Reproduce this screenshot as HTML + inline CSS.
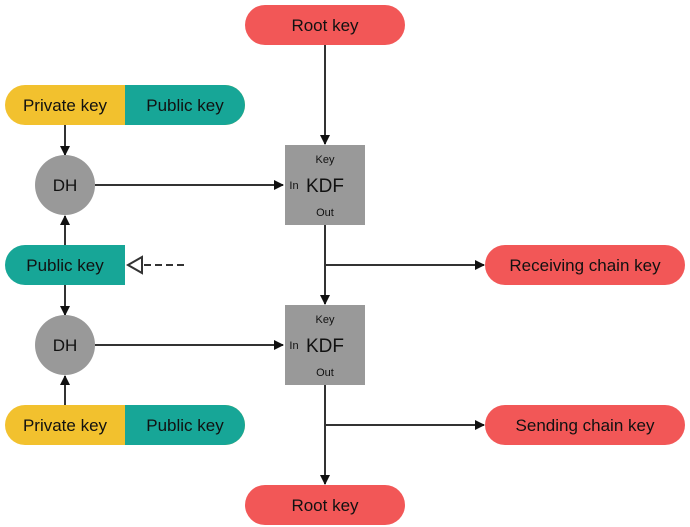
<!DOCTYPE html>
<html><head><style>html,body{margin:0;padding:0;background:#fff;}svg{display:block}</style></head>
<body>
<svg width="690" height="527" viewBox="0 0 690 527" xmlns="http://www.w3.org/2000/svg" font-family="Liberation Sans, sans-serif">
<defs>
<marker id="a" markerWidth="10" markerHeight="10" refX="9" refY="5" orient="auto" markerUnits="userSpaceOnUse"><path d="M0,0 L10,5 L0,10 z" fill="#111"/></marker>
</defs>
<g stroke="#333" stroke-width="2" fill="none">
<line x1="325" y1="45" x2="325" y2="144" marker-end="url(#a)"/>
<line x1="95" y1="185" x2="283" y2="185" marker-end="url(#a)"/>
<line x1="65" y1="125" x2="65" y2="155" marker-end="url(#a)"/>
<line x1="65" y1="245" x2="65" y2="216" marker-end="url(#a)"/>
<line x1="65" y1="285" x2="65" y2="315" marker-end="url(#a)"/>
<line x1="65" y1="405" x2="65" y2="376" marker-end="url(#a)"/>
<line x1="325" y1="225" x2="325" y2="304" marker-end="url(#a)"/>
<line x1="325" y1="265" x2="484" y2="265" marker-end="url(#a)"/>
<line x1="95" y1="345" x2="283" y2="345" marker-end="url(#a)"/>
<line x1="325" y1="385" x2="325" y2="484" marker-end="url(#a)"/>
<line x1="325" y1="425" x2="484" y2="425" marker-end="url(#a)"/>
<line x1="144" y1="265" x2="187" y2="265" stroke-dasharray="7,4"/>
<path d="M128,265 L142,257 L142,273 z" fill="#fff"/>
</g>
<rect x="245" y="5" width="160" height="40" rx="20" fill="#f25757"/>
<rect x="245" y="485" width="160" height="40" rx="20" fill="#f25757"/>
<rect x="485" y="245" width="200" height="40" rx="20" fill="#f25757"/>
<rect x="485" y="405" width="200" height="40" rx="20" fill="#f25757"/>
<rect x="5" y="85" width="240" height="40" rx="20" fill="#f2c12e"/>
<path d="M125,85 H225 A20,20 0 0 1 225,125 H125 z" fill="#17a697"/>
<rect x="5" y="405" width="240" height="40" rx="20" fill="#f2c12e"/>
<path d="M125,405 H225 A20,20 0 0 1 225,445 H125 z" fill="#17a697"/>
<path d="M25,245 H125 V285 H25 A20,20 0 0 1 25,245 z" fill="#17a697"/>
<circle cx="65" cy="185" r="30" fill="#999"/>
<circle cx="65" cy="345" r="30" fill="#999"/>
<rect x="285" y="145" width="80" height="80" fill="#999"/>
<rect x="285" y="305" width="80" height="80" fill="#999"/>
<g font-size="17" fill="#111" text-anchor="middle">
<text x="325" y="31">Root key</text>
<text x="325" y="511">Root key</text>
<text x="585" y="271">Receiving chain key</text>
<text x="585" y="431">Sending chain key</text>
<text x="65" y="111">Private key</text>
<text x="185" y="111">Public key</text>
<text x="65" y="431">Private key</text>
<text x="185" y="431">Public key</text>
<text x="65" y="271">Public key</text>
<text x="65" y="191">DH</text>
<text x="65" y="351">DH</text>
<text x="325" y="192" font-size="19">KDF</text>
<text x="325" y="352" font-size="19">KDF</text>
<g font-size="11">
<text x="325" y="163">Key</text><text x="325" y="216">Out</text><text x="294" y="189">In</text>
<text x="325" y="323">Key</text><text x="325" y="376">Out</text><text x="294" y="349">In</text>
</g>
</g>
</svg>
</body></html>
